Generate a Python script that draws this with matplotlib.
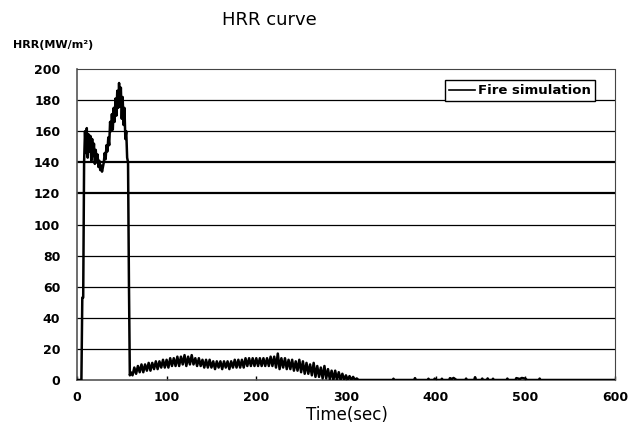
import numpy as np
import matplotlib
matplotlib.use("Agg")
import matplotlib.pyplot as plt
from matplotlib.lines import Line2D

# rise and first fire phase, 1 s steps
t_rise = list(range(0, 61))
hrr_rise = [
    0, 0, 0, 0, 0, 0, 53, 53, 140, 160,
    146, 162, 143, 158, 147, 157, 141, 155, 144, 152,
    139, 148, 140, 145, 137, 141, 135, 138, 134, 137,
    140, 146, 142, 151, 147, 156, 151, 166, 160, 171,
    161, 175, 166, 181, 170, 186, 175, 191, 176, 188,
    168, 182, 164, 175, 155, 160, 143, 140, 63, 3,
    5,
]

# smouldering phase, 2 s steps
t_decay = list(range(62, 318, 2))
hrr_decay = [
    3, 8, 4, 9, 5, 10, 5, 10, 6, 11,
    6, 11, 7, 12, 7, 12, 8, 13, 8, 13,
    8, 14, 9, 14, 9, 15, 9, 15, 10, 16,
    9, 15, 10, 16, 10, 14, 9, 14, 9, 13,
    8, 13, 8, 13, 8, 12, 7, 12, 8, 12,
    7, 12, 8, 12, 7, 12, 8, 13, 8, 13,
    8, 13, 8, 14, 9, 14, 9, 14, 9, 14,
    9, 14, 9, 14, 9, 14, 9, 15, 9, 15,
    8, 17, 7, 14, 8, 14, 7, 13, 7, 13,
    6, 12, 6, 13, 5, 12, 4, 11, 4, 10,
    3, 11, 2, 9, 2, 8, 1, 9, 1, 7,
    0.5, 6, 0, 6, 0, 5, 0, 4, 0, 3,
    0, 2.5, 0, 2, 0, 1, 0, 0,
]

# tail with small blips
t_tail = [320, 352, 353, 354, 376, 377, 378, 391, 392, 393, 398, 399, 400,
          406, 407, 408, 415, 416, 418, 420, 422, 423, 433, 434, 435, 443,
          444, 445, 451, 452, 453, 457, 458, 459, 463, 464, 465, 479, 480,
          481, 489, 490, 494, 496, 500, 502, 515, 516, 517, 600]
hrr_tail = [0, 0, 0.8, 0, 0, 1.2, 0, 0, 0.8, 0, 0, 0.9, 0,
            0, 0.8, 0, 0, 1.2, 0.6, 1.3, 0.5, 0, 0, 0.9, 0, 0,
            1.8, 0, 0, 0.9, 0, 0, 1.0, 0, 0, 0.8, 0, 0, 0.9,
            0, 0, 1.2, 0.6, 1.3, 0.9, 0, 0, 0.9, 0, 0]

time = np.array(t_rise + t_decay + t_tail, dtype=float)
hrr = np.array(hrr_rise + hrr_decay + hrr_tail, dtype=float)

y_ticks = list(range(0, 201, 20))
x_ticks = list(range(0, 601, 100))

fig = plt.figure(figsize=(6.41, 4.30), dpi=100)
ax = fig.add_axes([0.120, 0.1163, 0.8394, 0.7232])

for yv in y_ticks[1:-1]:
    lw = 1.6 if yv in (120, 140) else 0.9
    ax.axhline(yv, color="black", lw=lw, zorder=1)

ax.plot(time, hrr, color="black", lw=1.8, zorder=3)

ax.set_xlim(0, 600)
ax.set_ylim(0, 200)
ax.set_xticks(x_ticks)
ax.set_yticks(y_ticks)
ax.tick_params(axis="x", direction="in", length=3, width=1, pad=8)
ax.tick_params(axis="y", length=0, pad=12)
for lab in ax.get_xticklabels() + ax.get_yticklabels():
    lab.set_fontweight("bold")
    lab.set_fontsize(9)

for side in ("left", "bottom"):
    ax.spines[side].set_linewidth(1.2)
    ax.spines[side].set_color("#555555")
for side in ("top", "right"):
    ax.spines[side].set_linestyle((0, (1, 1)))
    ax.spines[side].set_linewidth(0.8)
    ax.spines[side].set_color("#444444")

handle = Line2D([], [], color="black", lw=1.2)
leg = ax.legend([handle], ["Fire simulation"], loc="upper right",
                bbox_to_anchor=(0.975, 0.985), fancybox=False, framealpha=1,
                edgecolor="black", handlelength=2.0, handletextpad=0.2,
                borderpad=0.3, prop={"weight": "bold", "size": 9.5})
leg.get_frame().set_linewidth(1.0)

fig.text(0.421, 0.953, "HRR curve", fontsize=13, ha="center", va="center")
fig.text(0.020, 0.895, "HRR(MW/m\u00b2)", fontsize=8, fontweight="bold",
         ha="left", va="center")
fig.text(0.541, 0.035, "Time(sec)", fontsize=12, ha="center", va="center")

fig.savefig("out.png", dpi=100)
